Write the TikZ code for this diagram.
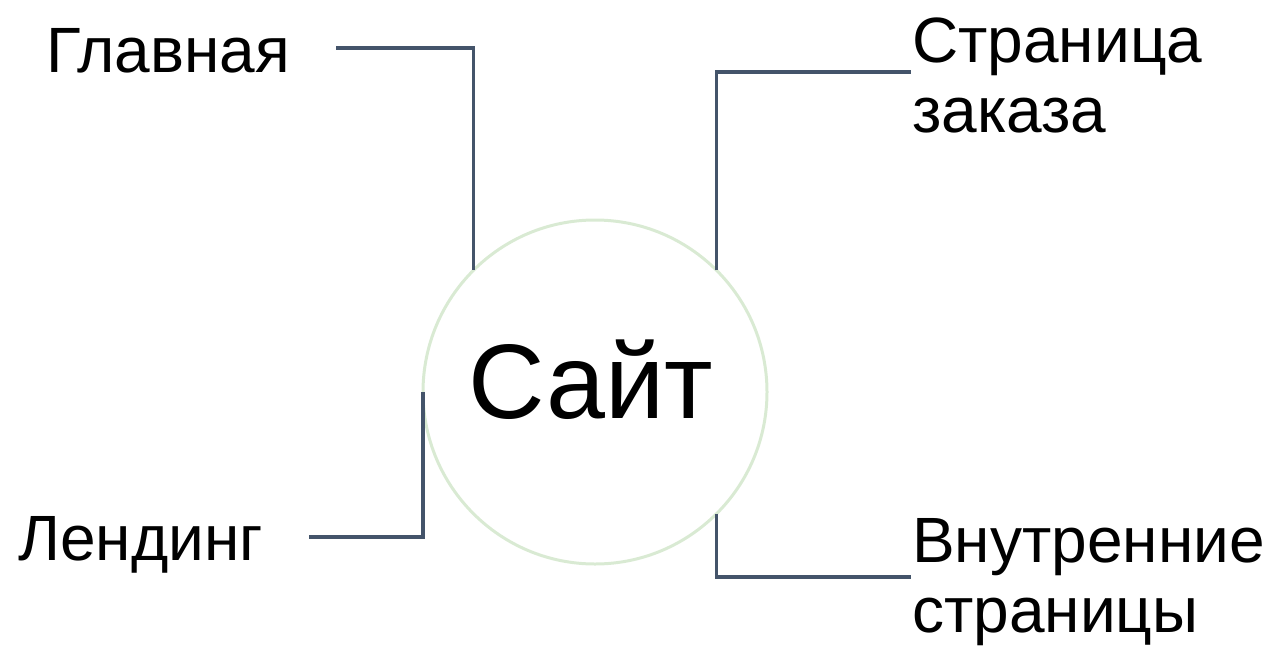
\documentclass[tikz,border=0pt]{standalone}
\usepackage{fontspec}
\setmainfont{Liberation Sans}
\definecolor{linec}{HTML}{44546A}
\definecolor{circc}{HTML}{D9EAD3}
\begin{document}
\begin{tikzpicture}[x=1pt,y=-1pt,
  lbl/.style={inner sep=0pt, anchor=base west, align=left, font=\fontsize{64}{70}\selectfont},
  conn/.style={draw=linec, line width=3.5pt}]
\useasboundingbox (0,0) rectangle (1274,654);
\node[circle, draw=circc, line width=3pt, minimum size=344pt, inner sep=0pt, outer sep=0pt] (site) at (595,392) {};
\node[inner sep=0pt, anchor=base, font=\fontsize{106}{114}\selectfont] (sitet) at (591,418) {Сайт};
\node[lbl] (glav) at (46,72.7) {Главная};
\node[lbl] (zak) at (912,132.5) {Страница\\заказа};
\node[lbl] (lend) at (18,560.7) {Лендинг};
\node[lbl] (vnut) at (912,632.7) {Внутренние\\страницы};
\coordinate (g1) at (336,48);
\coordinate (z1) at (911,72);
\coordinate (l1) at (309,537);
\coordinate (v1) at (911,577);
\draw[conn] (g1) -| (site.135);
\draw[conn] (site.45) |- (z1);
\draw[conn] (l1) -| (site.180);
\draw[conn] (site.-45) |- (v1);
\end{tikzpicture}
\end{document}
